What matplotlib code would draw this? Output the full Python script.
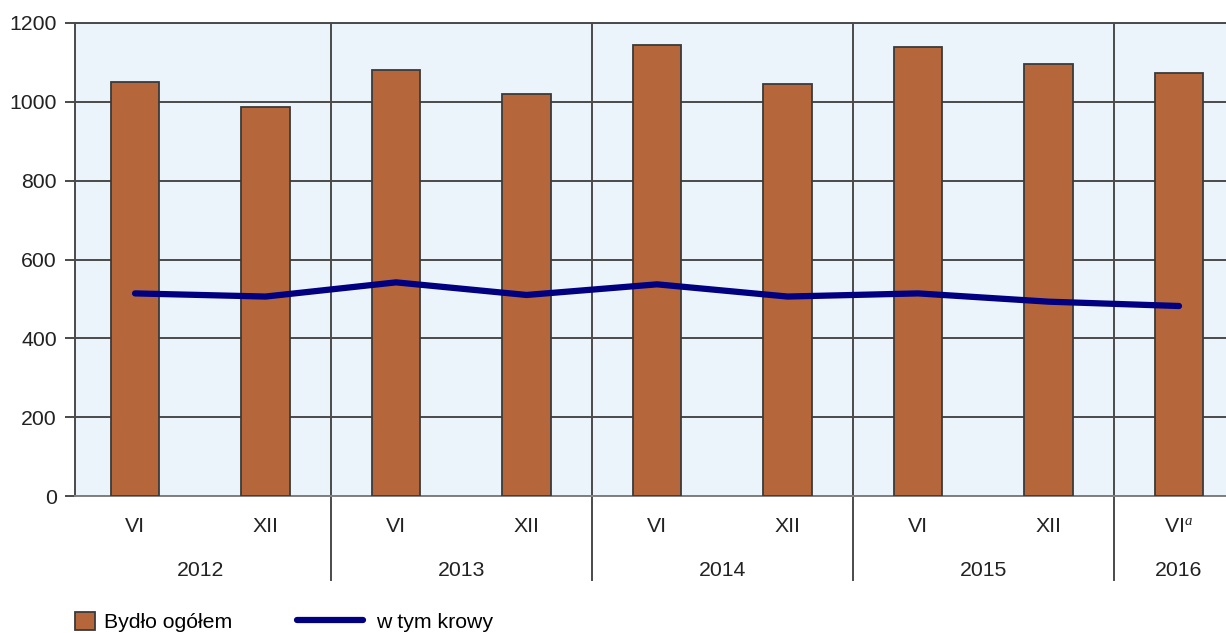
import matplotlib
matplotlib.use('Agg')
import matplotlib.pyplot as plt
import matplotlib.patches as patches
from matplotlib.lines import Line2D
import matplotlib.transforms as mtransforms

plt.rcParams['font.family'] = ['Liberation Sans', 'DejaVu Sans']
plt.rcParams['mathtext.fontset'] = 'custom'
plt.rcParams['mathtext.rm'] = 'Liberation Sans'
plt.rcParams['mathtext.it'] = 'Liberation Serif:italic'

# data
months = ['VI', 'XII', 'VI', 'XII', 'VI', 'XII', 'VI', 'XII', 'VI$^{a}$']
years = ['2012', '2013', '2014', '2015', '2016']
year_centers = [0.5, 2.5, 4.5, 6.5, 8.0]
separators = [1.5, 3.5, 5.5, 7.5]
bydlo = [1051, 988, 1081, 1019, 1145, 1045, 1139, 1095, 1072]
krowy = [514, 506, 542, 510, 537, 506, 514, 493, 482]

bar_color = '#b5673b'
edge_color = '#3a3a3a'
line_color = '#000080'
grid_color = '#4a4a4a'
bg_color = '#ebf4fa'

fig = plt.figure(figsize=(12.26, 6.33), dpi=100)
ax = fig.add_axes([75 / 1226, (633 - 496) / 633, 1 - 75 / 1226, (496 - 23) / 633])
ax.set_facecolor(bg_color)

x = list(range(len(bydlo)))
ax.bar(x, bydlo, width=0.37, color=bar_color, edgecolor=edge_color, linewidth=1.3, zorder=3)
ax.plot(x, krowy, color=line_color, linewidth=4.5, solid_capstyle='round', zorder=4)

ax.set_ylim(0, 1200)
ax.set_xlim(-0.46, 8.36)
ax.set_yticks(range(0, 1201, 200))
ax.yaxis.grid(True, color=grid_color, linewidth=1.4, zorder=1)
ax.set_axisbelow(True)
ax.tick_params(axis='y', length=7, width=1.4, color=grid_color, labelsize=15.3, pad=6, labelcolor='#222222')
ax.set_xticks([])

ax.spines['right'].set_visible(False)
ax.spines['top'].set_color(grid_color)
ax.spines['top'].set_linewidth(1.4)
ax.spines['left'].set_color(grid_color)
ax.spines['left'].set_linewidth(1.4)
ax.spines['bottom'].set_color('#808080')
ax.spines['bottom'].set_linewidth(1.4)

# year separators, extending below the axis
trans = mtransforms.blended_transform_factory(ax.transData, ax.transAxes)
sep_bottom = -(580 - 496) / 473
for s in separators:
    ax.add_line(Line2D([s, s], [sep_bottom, 1], transform=trans, color=grid_color,
                       linewidth=1.4, clip_on=False, zorder=2))

# category labels
for xi, m in zip(x, months):
    ax.text(xi, -(527 - 496) / 473, m, transform=trans, ha='center', va='center',
            fontsize=15.3, color='#222222')
for xc, yr in zip(year_centers, years):
    ax.text(xc, -(570 - 496) / 473, yr, transform=trans, ha='center', va='center',
            fontsize=15.3, color='#222222')

# legend
h1 = patches.Patch(facecolor=bar_color, edgecolor=edge_color, linewidth=1.3)
fig.legend([h1], ['Bydło ogółem'], loc='center left', bbox_to_anchor=(75 / 1226, 1 - 622 / 633),
           frameon=False, fontsize=15.3, handlelength=0.95, handleheight=0.95, handletextpad=0.4,
           borderaxespad=0, borderpad=0)
h2 = Line2D([], [], color=line_color, linewidth=4.5, solid_capstyle='round')
fig.legend([h2], ['w tym krowy'], loc='center left', bbox_to_anchor=(297 / 1226, 1 - 622 / 633),
           frameon=False, fontsize=15.3, handlelength=3.1, handletextpad=0.6,
           borderaxespad=0, borderpad=0)

fig.savefig('out.png', dpi=100)
